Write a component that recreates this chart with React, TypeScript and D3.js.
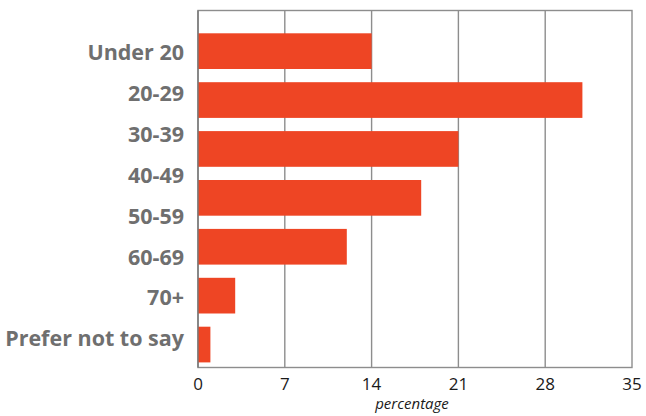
import React from "react";
import * as d3 from "d3";

// Share of respondents by age group (percent)
const categories = [
  "Under 20",
  "20-29",
  "30-39",
  "40-49",
  "50-59",
  "60-69",
  "70+",
  "Prefer not to say",
];
const values = [14, 31, 21, 18, 12, 3, 1, 0];
const xTicks = [0, 7, 14, 21, 28, 35];

const W = 646;
const H = 416;
const plot = { left: 198, right: 632, top: 10.5, bottom: 367.5 };

export default function App() {
  const x = d3.scaleLinear().domain([0, 35]).range([plot.left, plot.right]);

  // Bar rows
  const barY = d3
    .scaleBand<string>()
    .domain(categories)
    .range([33.3, 33.3 + 48.9 * (categories.length - 0.27)])
    .paddingInner(0.27)
    .paddingOuter(0);

  // Category label rows
  const labelY = d3.scalePoint<string>().domain(categories).range([52.5, 338.5]);

  const gridColor = "#8d8d8d";
  const barColor = "#ee4524";

  return (
    <svg
      width={W}
      height={H}
      style={{ position: "absolute", left: 0, top: 0, background: "#fff" }}
    >
      {/* frame */}
      <rect
        x={plot.left}
        y={plot.top}
        width={plot.right - plot.left}
        height={plot.bottom - plot.top}
        fill="none"
        stroke={gridColor}
        strokeWidth={1.4}
      />
      {/* vertical gridlines */}
      {xTicks.slice(1, -1).map((t) => (
        <line
          key={t}
          x1={x(t)}
          x2={x(t)}
          y1={plot.top}
          y2={plot.bottom}
          stroke={gridColor}
          strokeWidth={1.4}
        />
      ))}
      {/* bars */}
      {categories.map((c, i) => (
        <rect
          key={c}
          x={x(0)}
          y={barY(c)!}
          width={x(values[i]) - x(0)}
          height={barY.bandwidth()}
          fill={barColor}
        />
      ))}
      {/* left axis line */}
      <line
        x1={plot.left}
        x2={plot.left}
        y1={plot.top}
        y2={plot.bottom}
        stroke="#777"
        strokeWidth={1.4}
      />
      {/* category labels */}
      {categories.map((c) => (
        <text
          key={c}
          x={184}
          y={labelY(c)!}
          dy="0.36em"
          textAnchor="end"
          fontFamily="'Open Sans', sans-serif"
          fontWeight={700}
          fontSize={21.5}
          fill="#6f6f6f"
        >
          {c}
        </text>
      ))}
      {/* x tick labels */}
      {xTicks.map((t) => (
        <text
          key={t}
          x={x(t)}
          y={384}
          dy="0.36em"
          textAnchor="middle"
          fontFamily="'Open Sans', sans-serif"
          fontSize={17}
          fill="#1a1a1a"
        >
          {t}
        </text>
      ))}
      <text
        x={412}
        y={409}
        textAnchor="middle"
        fontFamily="'Open Sans', sans-serif"
        fontStyle="italic"
        fontSize={15}
        fill="#1a1a1a"
      >
        percentage
      </text>
    </svg>
  );
}
